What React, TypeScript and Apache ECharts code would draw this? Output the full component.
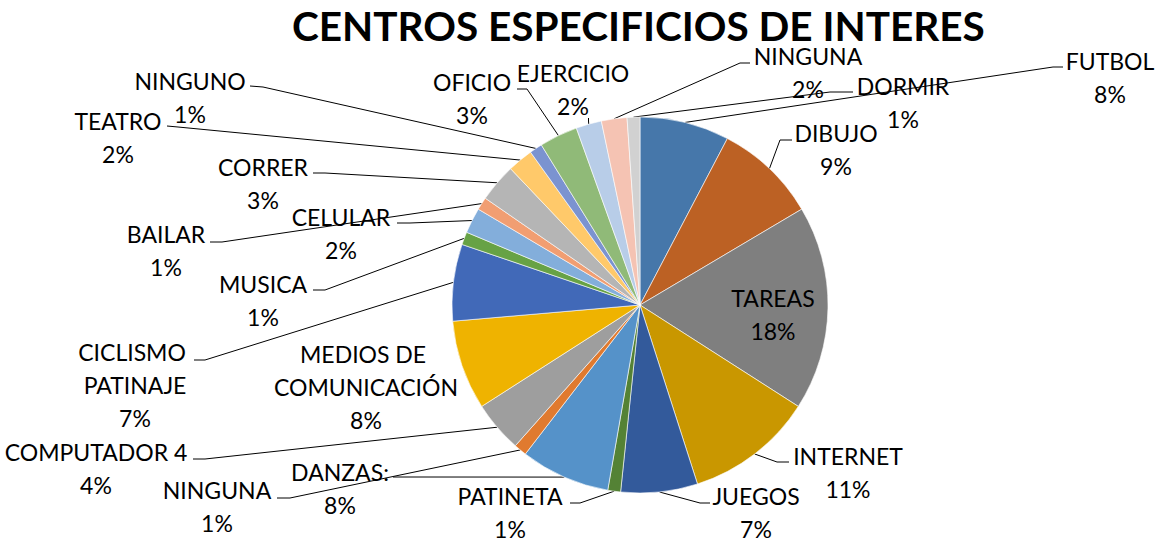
import React, { useEffect, useRef } from "react";
import * as echarts from "echarts";

const titleText = "CENTROS ESPECIFICIOS DE INTERES";

const categories = [
  "FUTBOL",
  "DIBUJO",
  "TAREAS",
  "INTERNET",
  "JUEGOS",
  "PATINETA",
  "DANZAS:",
  "NINGUNA",
  "COMPUTADOR 4",
  "MEDIOS DE COMUNICACIÓN",
  "CICLISMO PATINAJE",
  "MUSICA",
  "CELULAR",
  "BAILAR",
  "CORRER",
  "TEATRO",
  "NINGUNO",
  "OFICIO",
  "EJERCICIO",
  "NINGUNA",
  "DORMIR",
];

const values = [7, 8, 16, 10, 6, 1, 7, 1, 4, 7, 6, 1, 2, 1, 3, 2, 1, 3, 2, 2, 1];

const colors = [
  "#4677AA",
  "#BC6124",
  "#7F7F7F",
  "#C99700",
  "#335A9B",
  "#548235",
  "#5592C9",
  "#E07A2F",
  "#9E9E9E",
  "#EFB300",
  "#4169B8",
  "#67A245",
  "#83AEDB",
  "#F19E72",
  "#B5B5B5",
  "#FFC96A",
  "#7B93D0",
  "#90BA78",
  "#B8CDE8",
  "#F5C3B3",
  "#D1D1D1",
];

// label placement (layout only): block centre and leader-line bend/end points
const labelPlacement: { x: number; y: number; line: number[][] | null }[] = [
  { x: 1110, y: 77, line: [[1053, 67], [1063, 67]] },
  { x: 836, y: 149, line: [[780, 140], [792, 140]] },
  { x: 773, y: 314, line: null },
  { x: 848, y: 472, line: [[777, 462], [789, 462]] },
  { x: 756, y: 512, line: [[700, 503], [710, 503]] },
  { x: 510, y: 512, line: [[580, 503], [570, 503]] },
  { x: 340, y: 488, line: [[420, 477], [393, 477]] },
  { x: 217, y: 506, line: [[290, 498], [277, 498]] },
  { x: 96, y: 468, line: [[205, 459], [193, 459]] },
  { x: 366, y: 387, line: null },
  { x: 135, y: 385, line: [[205, 360], [194, 360]] },
  { x: 263, y: 300, line: [[325, 290], [313, 290]] },
  { x: 341, y: 233, line: [[410, 223], [397, 223]] },
  { x: 166, y: 250, line: [[222, 242], [210, 242]] },
  { x: 263, y: 183, line: [[325, 173], [313, 173]] },
  { x: 118, y: 137, line: [[178, 127], [167, 126]] },
  { x: 190, y: 97, line: [[263, 87], [250, 86]] },
  { x: 472, y: 98, line: [[527, 89], [517, 89]] },
  { x: 573, y: 89, line: [[588.5, 121], [588.5, 118]] },
  { x: 808, y: 72, line: [[740, 63], [750, 63]] },
  { x: 903, y: 102, line: [[830, 92], [853, 92]] },
];

const FONT = "Lato, 'Open Sans', sans-serif";

export default function App() {
  const ref = useRef<HTMLDivElement>(null);

  useEffect(() => {
    if (!ref.current) return;
    const chart = echarts.init(ref.current, null, { renderer: "svg" });

    const data = categories.map((name, i) => {
      const item: any = {
        name,
        value: values[i],
        itemStyle: { color: colors[i] },
      };
      if (name === "TAREAS") {
        item.label = { position: "inside" };
        item.labelLine = { show: false };
      }
      if (name === "MEDIOS DE COMUNICACIÓN") {
        item.label = { width: 200, overflow: "break" };
        item.labelLine = { show: false };
      }
      if (name === "CICLISMO PATINAJE") {
        item.label = { width: 130, overflow: "break" };
      }
      return item;
    });

    chart.setOption({
      animation: false,
      backgroundColor: "#ffffff",
      title: {
        text: titleText,
        left: 292,
        top: 6,
        padding: 0,
        textStyle: {
          fontFamily: FONT,
          fontWeight: "bold",
          fontSize: 40.5,
          lineHeight: 38,
          color: "#000000",
        },
      },
      series: [
        {
          type: "pie",
          center: [640, 305],
          radius: 188,
          startAngle: 90,
          clockwise: true,
          avoidLabelOverlap: false,
          percentPrecision: 0,
          itemStyle: { borderColor: "#ffffff", borderWidth: 0.6 },
          label: {
            show: true,
            position: "outside",
            formatter: (p: any) => `${p.name}\n${p.percent}%`,
            fontFamily: FONT,
            fontSize: 23,
            lineHeight: 33,
            color: "#000000",
            align: "center",
          },
          labelLine: {
            show: true,
            length: 10,
            length2: 10,
            lineStyle: { color: "#000000", width: 1 },
          },
          emphasis: { disabled: true },
          labelLayout: (params: any) => {
            const pl = labelPlacement[params.dataIndex];
            if (!pl) return {};
            const out: any = {
              x: pl.x,
              y: pl.y,
              align: "center",
              verticalAlign: "middle",
            };
            if (pl.line && params.labelLinePoints && params.labelLinePoints[0]) {
              out.labelLinePoints = [params.labelLinePoints[0], pl.line[0], pl.line[1]];
            }
            return out;
          },
          data,
        },
      ],
    });

    return () => chart.dispose();
  }, []);

  return (
    <div
      ref={ref}
      style={{ position: "fixed", left: 0, top: 0, width: 1156, height: 542 }}
    />
  );
}
